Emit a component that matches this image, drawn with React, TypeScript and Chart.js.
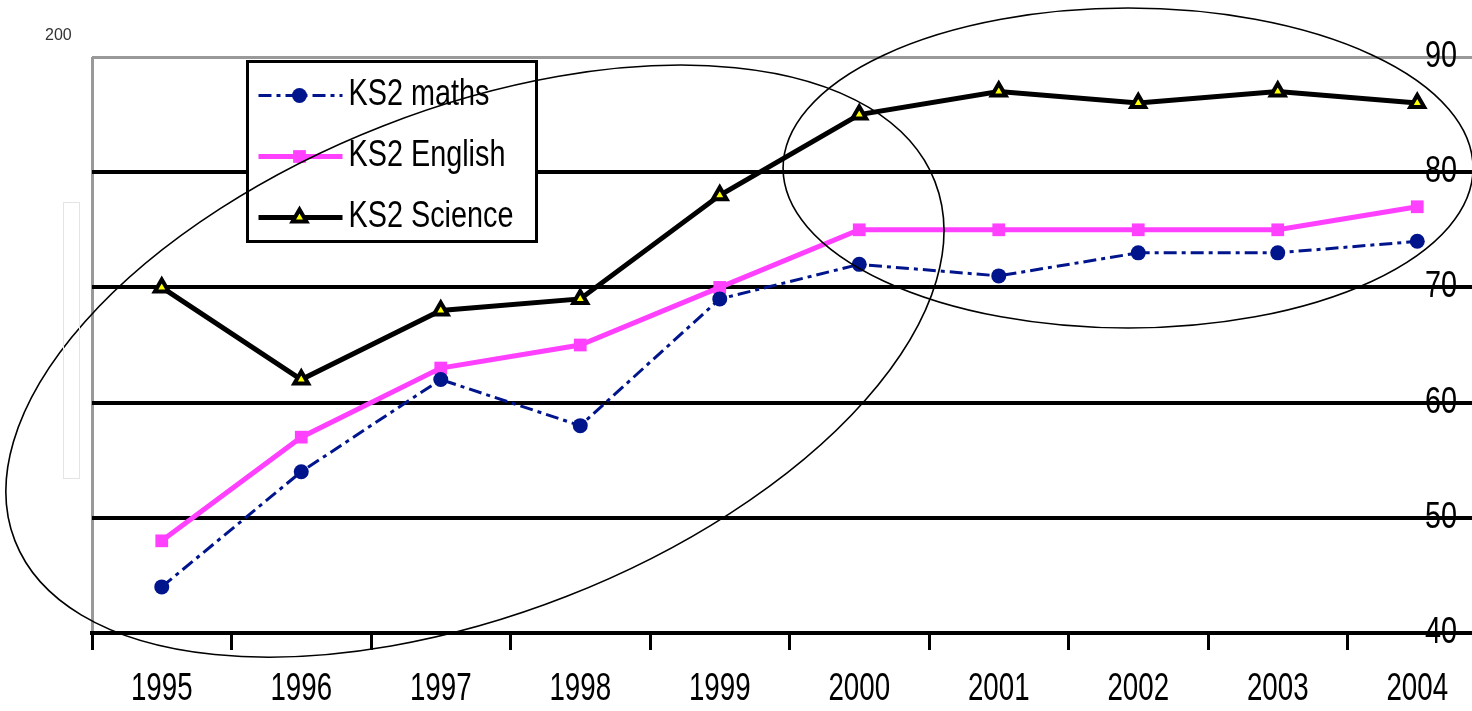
import React, { useEffect, useRef } from 'react';
import { Chart, registerables } from 'chart.js';

Chart.register(...registerables);

// ---------- data ----------
const years = ['1995', '1996', '1997', '1998', '1999', '2000', '2001', '2002', '2003', '2004'];
const mathsValues = [44, 54, 62, 58, 69, 72, 71, 73, 73, 74];
const englishValues = [48, 57, 63, 65, 70, 75, 75, 75, 75, 77];
const scienceValues = [70, 62, 68, 69, 78, 85, 87, 86, 87, 86];
const seriesLabels = ['KS2 maths', 'KS2 English', 'KS2 Science'];
const yTickValues = [40, 50, 60, 70, 80, 90];

// annotation ellipses, in data units (category index, value) and category widths
const ellipseCenterIndex = [2.245, 6.927];
const ellipseCenterValue = [63.6, 80.36];
const ellipseRadiusA = [3.54, 2.473];
const ellipseRadiusB = [1.81, 1.147];
const ellipseRotationDeg = [-21.35, 0];

const FONT_FAMILY = "'Liberation Sans', Arial, Helvetica, sans-serif";
const X_FONT_SIZE = 39;
const Y_FONT_SIZE = 36;
const LEGEND_FONT_SIZE = 36;
const NAVY = '#00148c';
const PINK = '#ff40ff';

// horizontal compression of the (narrow) chart lettering
function textSqueeze(font: string): number {
  const m = /(\d+(?:\.\d+)?)px/.exec(font);
  const size = m ? parseFloat(m[1]) : 12;
  return size >= 38 ? 0.71 : 0.8;
}

const narrowText = {
  id: 'narrowText',
  beforeDraw(chart: any) {
    const ctx = chart.ctx;
    const proto = Object.getPrototypeOf(ctx);
    const orig = proto.fillText;
    ctx.fillText = function (text: string, x: number, y: number, maxWidth?: number) {
      const sx = textSqueeze(this.font);
      this.save();
      this.translate(x, y);
      this.scale(sx, 1);
      if (maxWidth === undefined) orig.call(this, text, 0, 0);
      else orig.call(this, text, 0, 0, maxWidth / sx);
      this.restore();
    };
  },
  afterDraw(chart: any) {
    delete chart.ctx.fillText;
  },
};

function drawMarker(ctx: CanvasRenderingContext2D, ds: any, x: number, y: number) {
  const style = ds.pointStyle;
  const r = ds.pointRadius;
  ctx.save();
  ctx.setLineDash([]);
  ctx.fillStyle = ds.pointBackgroundColor;
  ctx.strokeStyle = ds.pointBorderColor;
  ctx.lineWidth = ds.pointBorderWidth;
  ctx.beginPath();
  if (style === 'circle') {
    ctx.arc(x, y, r, 0, Math.PI * 2);
  } else if (style === 'rect') {
    const s = r * Math.SQRT1_2;
    ctx.rect(x - s, y - s, 2 * s, 2 * s);
  } else if (style === 'triangle') {
    for (let k = 0; k < 3; k++) {
      const a = (k * 2 * Math.PI) / 3;
      const px = x + Math.sin(a) * r;
      const py = y - Math.cos(a) * r;
      if (k === 0) ctx.moveTo(px, py);
      else ctx.lineTo(px, py);
    }
    ctx.closePath();
  }
  ctx.fill();
  if (ds.pointBorderWidth > 0) ctx.stroke();
  ctx.restore();
}

const boxLegend = {
  id: 'boxLegend',
  afterDatasetsDraw(chart: any) {
    const { ctx, chartArea } = chart;
    const x0 = chartArea.left + 155.5;
    const y0 = chartArea.top + 4.5;
    const w = 289;
    const h = 180;
    ctx.save();
    ctx.fillStyle = '#ffffff';
    ctx.fillRect(x0, y0, w, h);
    ctx.lineWidth = 3;
    ctx.strokeStyle = '#000';
    ctx.strokeRect(x0, y0, w, h);
    chart.data.datasets.forEach((ds: any, i: number) => {
      const cy = y0 + 34 + i * 61;
      ctx.beginPath();
      ctx.setLineDash(ds.borderDash || []);
      ctx.lineWidth = ds.borderWidth;
      ctx.strokeStyle = ds.borderColor;
      ctx.moveTo(x0 + 11, cy);
      ctx.lineTo(x0 + 95, cy);
      ctx.stroke();
      ctx.setLineDash([]);
      drawMarker(ctx, ds, x0 + 52, cy);
      ctx.fillStyle = '#000';
      ctx.font = `${LEGEND_FONT_SIZE}px ${FONT_FAMILY}`;
      ctx.textBaseline = 'middle';
      ctx.textAlign = 'left';
      ctx.fillText(ds.label, x0 + 101, cy);
    });
    ctx.restore();
  },
};

const ellipses = {
  id: 'ellipses',
  afterDraw(chart: any) {
    const { ctx } = chart;
    const xs = chart.scales.x;
    const ys = chart.scales.y;
    const catW = xs.getPixelForValue(1) - xs.getPixelForValue(0);
    ctx.save();
    ctx.strokeStyle = '#000';
    ctx.lineWidth = 1.6;
    for (let i = 0; i < ellipseCenterIndex.length; i++) {
      const cx = xs.getPixelForValue(ellipseCenterIndex[i]);
      const cy = ys.getPixelForValue(ellipseCenterValue[i]);
      ctx.beginPath();
      ctx.ellipse(cx, cy, ellipseRadiusA[i] * catW, ellipseRadiusB[i] * catW,
        (ellipseRotationDeg[i] * Math.PI) / 180, 0, Math.PI * 2);
      ctx.stroke();
    }
    ctx.restore();
  },
};

export default function App() {
  const canvasRef = useRef<HTMLCanvasElement | null>(null);

  useEffect(() => {
    if (!canvasRef.current) return;
    const chart = new Chart(canvasRef.current, {
      type: 'line',
      data: {
        labels: years,
        datasets: [
          {
            label: seriesLabels[0],
            data: mathsValues,
            borderColor: NAVY,
            borderWidth: 3,
            borderDash: [13, 5, 4, 5],
            pointStyle: 'circle',
            pointRadius: 7.5,
            pointBackgroundColor: NAVY,
            pointBorderColor: NAVY,
            pointBorderWidth: 0,
            tension: 0,
            fill: false,
          },
          {
            label: seriesLabels[1],
            data: englishValues,
            borderColor: PINK,
            borderWidth: 5,
            pointStyle: 'rect',
            pointRadius: 9,
            pointBackgroundColor: PINK,
            pointBorderColor: PINK,
            pointBorderWidth: 0,
            tension: 0,
            fill: false,
          },
          {
            label: seriesLabels[2],
            data: scienceValues,
            borderColor: '#000000',
            borderWidth: 5,
            pointStyle: 'triangle',
            pointRadius: 8,
            pointBackgroundColor: '#ffff00',
            pointBorderColor: '#000000',
            pointBorderWidth: 4,
            tension: 0,
            fill: false,
          },
        ] as any,
      },
      options: {
        animation: false,
        responsive: false,
        maintainAspectRatio: false,
        layout: { padding: { left: 92, right: 13, top: 57, bottom: 0 } },
        plugins: {
          legend: { display: false },
          tooltip: { enabled: false },
          title: { display: false },
        },
        scales: {
          x: {
            type: 'category',
            offset: true,
            afterFit: (scale: any) => {
              scale.height = 78;
            },
            grid: {
              offset: true,
              drawOnChartArea: true,
              color: (c: any) => (c.index === 0 ? '#999999' : 'rgba(0,0,0,0)'),
              lineWidth: 3,
              drawTicks: true,
              tickLength: 17,
              tickColor: '#000000',
              tickWidth: 3,
            },
            border: { display: true, color: '#000000', width: 4 },
            ticks: {
              font: { family: FONT_FAMILY, size: X_FONT_SIZE, lineHeight: 1.1 },
              color: '#000000',
              padding: 18,
              maxRotation: 0,
              minRotation: 0,
              autoSkip: false,
            },
          },
          y: {
            type: 'linear',
            position: 'right',
            min: 40,
            max: 90,
            afterBuildTicks: (scale: any) => {
              scale.ticks = yTickValues.map((v) => ({ value: v }));
            },
            afterFit: (scale: any) => {
              scale.width = 0;
            },
            ticks: {
              mirror: true,
              padding: -30,
              font: { family: FONT_FAMILY, size: Y_FONT_SIZE, lineHeight: 1.1 },
              color: '#000000',
            },
            grid: {
              color: (c: any) => (c.tick && c.tick.value === 90 ? '#999999' : '#000000'),
              lineWidth: (c: any) => (c.tick && c.tick.value === 90 ? 3 : 4),
              drawTicks: false,
            },
            border: { display: false },
          },
        } as any,
      },
      plugins: [narrowText, boxLegend, ellipses],
    });
    return () => chart.destroy();
  }, []);

  return (
    <div
      style={{
        position: 'absolute',
        left: 0,
        top: 0,
        width: 1472,
        height: 711,
        overflow: 'hidden',
        background: '#ffffff',
      }}
    >
      <canvas ref={canvasRef} width={1500} height={711} style={{ position: 'absolute', left: 0, top: 0 }} />
      <div
        style={{
          position: 'absolute',
          left: 45,
          top: 26,
          width: 27,
          overflow: 'hidden',
          whiteSpace: 'nowrap',
          fontFamily: "'Liberation Sans', Arial, sans-serif",
          fontSize: 16,
          lineHeight: 'normal',
          color: '#333333',
        }}
      >
        2006
      </div>
      <div
        style={{
          position: 'absolute',
          left: 63,
          top: 202,
          width: 15,
          height: 275,
          border: '1px solid #e4e4e4',
        }}
      />
    </div>
  );
}
